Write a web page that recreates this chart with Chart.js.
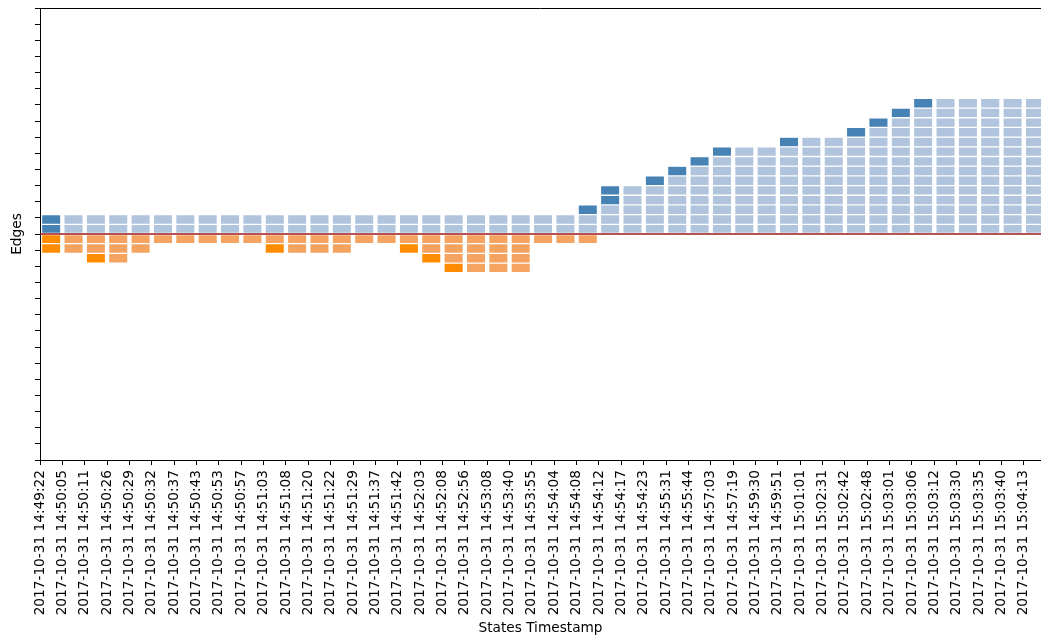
<!DOCTYPE html>
<html>
<head>
<meta charset="utf-8">
<script src="https://cdn.jsdelivr.net/npm/chart.js@4/dist/chart.umd.min.js"></script>
<style>
  html, body { margin: 0; padding: 0; background: #fff; overflow: hidden; }
  canvas { display: block; }
</style>
</head>
<body>
<canvas id="edges" width="1041" height="639"></canvas>
<script>
// One state per timestamp
const timestamps = [
  '2017-10-31 14:49:22', '2017-10-31 14:50:05', '2017-10-31 14:50:11', '2017-10-31 14:50:26',
  '2017-10-31 14:50:29', '2017-10-31 14:50:32', '2017-10-31 14:50:37', '2017-10-31 14:50:43',
  '2017-10-31 14:50:53', '2017-10-31 14:50:57', '2017-10-31 14:51:03', '2017-10-31 14:51:08',
  '2017-10-31 14:51:20', '2017-10-31 14:51:22', '2017-10-31 14:51:29', '2017-10-31 14:51:37',
  '2017-10-31 14:51:42', '2017-10-31 14:52:03', '2017-10-31 14:52:08', '2017-10-31 14:52:56',
  '2017-10-31 14:53:08', '2017-10-31 14:53:40', '2017-10-31 14:53:55', '2017-10-31 14:54:04',
  '2017-10-31 14:54:08', '2017-10-31 14:54:12', '2017-10-31 14:54:17', '2017-10-31 14:54:23',
  '2017-10-31 14:55:31', '2017-10-31 14:55:44', '2017-10-31 14:57:03', '2017-10-31 14:57:19',
  '2017-10-31 14:59:30', '2017-10-31 14:59:51', '2017-10-31 15:01:01', '2017-10-31 15:02:31',
  '2017-10-31 15:02:42', '2017-10-31 15:02:48', '2017-10-31 15:03:01', '2017-10-31 15:03:06',
  '2017-10-31 15:03:12', '2017-10-31 15:03:30', '2017-10-31 15:03:35', '2017-10-31 15:03:40',
  '2017-10-31 15:04:13'
];

// Edges present in each state (stacked upward from zero)
const edgesPresent = [
  2, 2, 2, 2, 2, 2, 2, 2, 2, 2, 2, 2, 2, 2, 2, 2, 2, 2, 2, 2, 2, 2, 2, 2,
  3, 5, 5, 6, 7, 8, 9, 9, 9, 10, 10, 10, 11, 12, 13, 14, 14, 14, 14, 14, 14
];
// How many of those edges first appear in that state (drawn on top, darker)
const edgesAdded = [
  2, 0, 0, 0, 0, 0, 0, 0, 0, 0, 0, 0, 0, 0, 0, 0, 0, 0, 0, 0, 0, 0, 0, 0,
  1, 2, 0, 1, 1, 1, 1, 0, 0, 1, 0, 0, 1, 1, 1, 1, 0, 0, 0, 0, 0
];
// Edges missing in each state (stacked downward from zero)
const edgesMissing = [
  2, 2, 3, 3, 2, 1, 1, 1, 1, 1, 2, 2, 2, 2, 1, 1, 2, 3, 4, 4, 4, 4, 1, 1,
  1, 0, 0, 0, 0, 0, 0, 0, 0, 0, 0, 0, 0, 0, 0, 0, 0, 0, 0, 0, 0
];
// How many of those went missing in that state (drawn outermost, darker)
const edgesDropped = [
  2, 0, 1, 0, 0, 0, 0, 0, 0, 0, 1, 0, 0, 0, 0, 0, 1, 1, 1, 0, 0, 0, 0, 0,
  0, 0, 0, 0, 0, 0, 0, 0, 0, 0, 0, 0, 0, 0, 0, 0, 0, 0, 0, 0, 0
];

const BLOCK = 0.6;          // height of one edge block on the y axis
const Y_LIMIT = 14;
const X_MAX = 44.77;

const COLORS = {
  present: '#b0c4de', added: '#4682b4',
  missing: '#f4a460', dropped: '#ff8c00'
};

// Build one stacked layer per block level
const datasets = [];
const maxUp = Math.max(...edgesPresent);
for (let k = 0; k < maxUp; k++) {
  datasets.push({
    data: timestamps.map((_, i) => ({ x: i + 0.5, y: edgesPresent[i] > k ? BLOCK : null })),
    backgroundColor: timestamps.map((_, i) =>
      k >= edgesPresent[i] - edgesAdded[i] ? COLORS.added : COLORS.present)
  });
}
const maxDown = Math.max(...edgesMissing);
for (let k = 0; k < maxDown; k++) {
  datasets.push({
    data: timestamps.map((_, i) => ({ x: i + 0.5, y: edgesMissing[i] > k ? -BLOCK : null })),
    backgroundColor: timestamps.map((_, i) =>
      k >= edgesMissing[i] - edgesDropped[i] ? COLORS.dropped : COLORS.missing)
  });
}

const FONT = { family: "'DejaVu Sans', sans-serif", size: 13.7 };

// Top spine of the axes frame
const frameTop = {
  id: 'frameTop',
  afterDraw(chart) {
    const { ctx, chartArea: a } = chart;
    ctx.save();
    ctx.strokeStyle = '#000';
    ctx.lineWidth = 1;
    ctx.beginPath();
    ctx.moveTo(a.left, Math.round(a.top) + 0.5);
    ctx.lineTo(a.right, Math.round(a.top) + 0.5);
    ctx.stroke();
    ctx.restore();
  }
};

// Baseline at zero edges
const zeroLine = {
  id: 'zeroLine',
  afterDatasetsDraw(chart) {
    const { ctx, chartArea: a, scales } = chart;
    const y = scales.y.getPixelForValue(0);
    ctx.save();
    ctx.strokeStyle = '#a01818';
    ctx.lineWidth = 1.5;
    ctx.beginPath();
    ctx.moveTo(a.left, y);
    ctx.lineTo(a.right, y);
    ctx.stroke();
    ctx.restore();
  }
};

new Chart(document.getElementById('edges'), {
  type: 'bar',
  data: { datasets },
  options: {
    responsive: false,
    animation: false,
    layout: { padding: { top: 8, left: 0, right: 0, bottom: 0 } },
    plugins: { legend: { display: false }, tooltip: { enabled: false } },
    datasets: {
      bar: {
        categoryPercentage: 1,
        barPercentage: 0.865,
        borderWidth: 0.65,
        borderColor: '#ffffff',
        borderSkipped: false
      }
    },
    scales: {
      x: {
        type: 'linear',
        stacked: true,
        offset: false,
        min: 0,
        max: X_MAX,
        afterBuildTicks: s => { s.ticks = timestamps.map((_, i) => ({ value: i })); },
        afterFit: s => { s.height = 179; s.paddingLeft = 0; s.paddingRight = 0; },
        ticks: {
          autoSkip: false, minRotation: 90, maxRotation: 90, padding: 5, labelOffset: 0,
          color: '#000', font: FONT,
          callback: v => timestamps[v]
        },
        grid: { drawOnChartArea: false, drawTicks: true, tickLength: 5, color: '#000', lineWidth: 1, offset: false },
        border: { display: true, color: '#000', width: 1 },
        title: { display: true, text: 'States Timestamp', color: '#000', font: FONT, padding: { top: 0, bottom: 2 } }
      },
      y: {
        stacked: true,
        min: -Y_LIMIT,
        max: Y_LIMIT,
        afterBuildTicks: s => {
          const t = [];
          for (let v = -Y_LIMIT; v <= Y_LIMIT; v++) t.push({ value: v });
          s.ticks = t;
        },
        afterFit: s => { s.width = 40; s.paddingTop = 0; s.paddingBottom = 0; },
        ticks: { autoSkip: false, padding: 0, callback: () => '' },
        grid: { drawOnChartArea: false, drawTicks: true, tickLength: 5, color: '#000', lineWidth: 1 },
        border: { display: true, color: '#000', width: 1 },
        title: { display: true, text: 'Edges', color: '#000', font: FONT, padding: { top: 9, bottom: 0 } }
      }
    }
  },
  plugins: [frameTop, zeroLine]
});
</script>
</body>
</html>
